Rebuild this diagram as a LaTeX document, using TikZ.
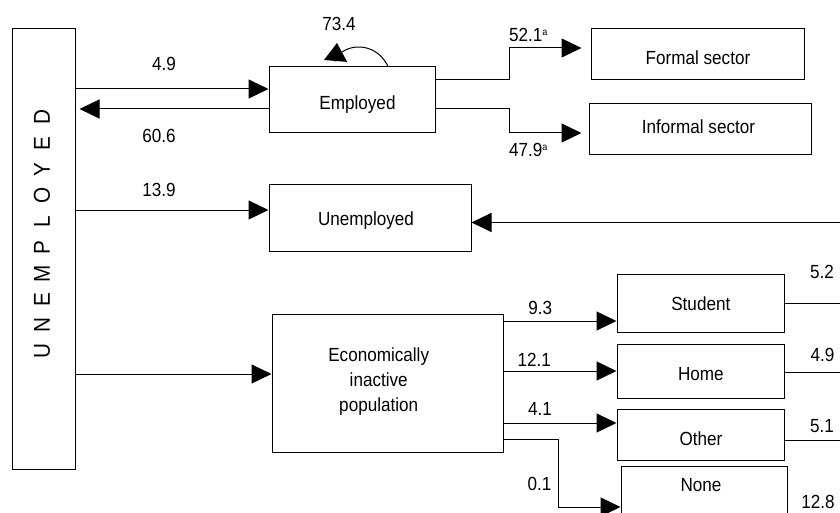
\documentclass[tikz,border=0pt]{standalone}
\usepackage{fontspec}
\setmainfont[FakeStretch=0.9]{Liberation Sans}
\usetikzlibrary{arrows.meta}
\newcommand\dgfont{\fontsize{19}{25.3}\selectfont}
\newcommand\dgbig{\fontsize{23}{23}\selectfont}
\newcommand\dgsup[1]{\raisebox{6pt}{\fontsize{10}{10}\selectfont #1}}
\begin{document}
\begin{tikzpicture}[x=1pt,y=-1pt,
  box/.style={draw, line width=1pt, rectangle, inner sep=0pt, font=\dgfont},
  txt/.style={inner sep=0pt, font=\dgfont, anchor=base},
  lab/.style={inner sep=0pt, font=\dgfont, anchor=base},
  arr/.style={line width=1pt, -{Triangle[length=20pt,width=19pt]}},
  ln/.style={line width=1pt},
]
\useasboundingbox (0,0) rectangle (840,513);
\clip (0,0) rectangle (840,513);

% boxes
\node[box, minimum width=63pt, minimum height=440pt] (unemp) at (43.5,249) {};
\node[inner sep=0pt, rotate=90, font=\dgbig] (unemptext) at (42,234.5)
  {\makebox[26pt]{U}\makebox[26pt]{N}\makebox[26pt]{E}\makebox[26pt]{M}\makebox[26pt]{P}\makebox[26pt]{L}\makebox[26pt]{O}\makebox[26pt]{Y}\makebox[26pt]{E}\makebox[26pt]{D}};

\node[box, minimum width=166pt, minimum height=66pt] (emp) at (352,100) {};
\node[txt] (emptext) at (357.5,110) {Employed};

\node[box, minimum width=213pt, minimum height=51pt] (formal) at (697.5,54.5) {};
\node[txt] (formaltext) at (698,64.3) {Formal sector};

\node[box, minimum width=222pt, minimum height=51pt] (informal) at (700,129.5) {};
\node[txt] (informaltext) at (698.5,134) {Informal sector};

\node[box, minimum width=202pt, minimum height=66pt] (unemployed) at (370,218) {};
\node[txt] (unemployedtext) at (366,225) {Unemployed};

\node[box, minimum width=231pt, minimum height=138pt] (econ) at (387.5,383) {};
\node[txt] (econ1) at (378.7,361) {Economically};
\node[txt] (econ2) at (378.7,386) {inactive};
\node[txt] (econ3) at (378.7,411.5) {population};

\node[box, minimum width=167pt, minimum height=58pt] (student) at (700.5,303) {};
\node[txt] (studenttext) at (700.8,310.7) {Student};

\node[box, minimum width=167pt, minimum height=54pt] (home) at (700.5,371) {};
\node[txt] (hometext) at (700.8,380.7) {Home};

\node[box, minimum width=167pt, minimum height=51pt] (other) at (700.5,434.5) {};
\node[txt] (othertext) at (701,445) {Other};

\node[box, minimum width=166pt, minimum height=60pt] (none) at (704,496) {};
\node[txt] (nonetext) at (701,491.7) {None};

% connectors
\draw[arr] (unemp.east |- 0,89) -- (emp.west |- 0,89);
\draw[arr, shorten >=4pt] (emp.west |- 0,109) -- (unemp.east |- 0,109);
\draw[arr, shorten >=9pt] (emp.east |- 0,80) -- (509,80) |- (formal.west |- 0,48);
\draw[arr, shorten >=7pt] (emp.east |- 0,109) -- (509,109) |- (informal.west |- 0,133);
\draw[arr] (unemp.east |- 0,210) -- (unemployed.west |- 0,210);
\coordinate (rin) at (840,222.5);
\draw[arr] (rin) -- (unemployed.east |- rin);
\draw[arr] (unemp.east |- 0,374) -- (econ.west |- 0,374);
\draw[arr] (econ.east |- 0,321) -- (student.west |- 0,321);
\draw[arr] (econ.east |- 0,371) -- (home.west |- 0,371);
\draw[arr] (econ.east |- 0,423) -- (other.west |- 0,423);
\draw[arr] (econ.east |- 0,439) -- (558,439) |- (none.west |- 0,507);

\coordinate (rs) at (840,303);
\coordinate (rh) at (840,372);
\coordinate (ro) at (840,440);
\draw[ln] (student.east |- rs) -- (rs);
\draw[ln] (home.east |- rh) -- (rh);
\draw[ln] (other.east |- ro) -- (ro);

% self loop
\coordinate (loopend) at (342,52);
\coordinate (lb) at (335.5,61.5);
\coordinate (lt) at (337,43);
\draw[ln] ([xshift=36pt]emp.north) .. controls (379,47) and (357,42) .. (loopend);
\draw[line width=1pt, -{Triangle[length=18pt,width=23pt]}] (lb) -- (lt);

% labels
\node[lab] (l49) at (164,71) {4.9};
\node[lab] (l606) at (159,142.7) {60.6};
\node[lab] (l139) at (159,196.7) {13.9};
\node[lab] (l734) at (339,30.5) {73.4};
\node[lab, anchor=base west] (l521) at (509,41.7) {52.1\dgsup{a}};
\node[lab, anchor=base west] (l479) at (509,156.5) {47.9\dgsup{a}};
\node[lab] (l93) at (540.3,314.3) {9.3};
\node[lab] (l121) at (534.3,366.7) {12.1};
\node[lab] (l41) at (540,415) {4.1};
\node[lab] (l01) at (539.5,490) {0.1};
\node[lab] (l52) at (822,278.3) {5.2};
\node[lab] (l49b) at (822.5,361.7) {4.9};
\node[lab] (l51) at (822,432.7) {5.1};
\node[lab] (l128) at (818,508.3) {12.8};
\end{tikzpicture}
\end{document}
